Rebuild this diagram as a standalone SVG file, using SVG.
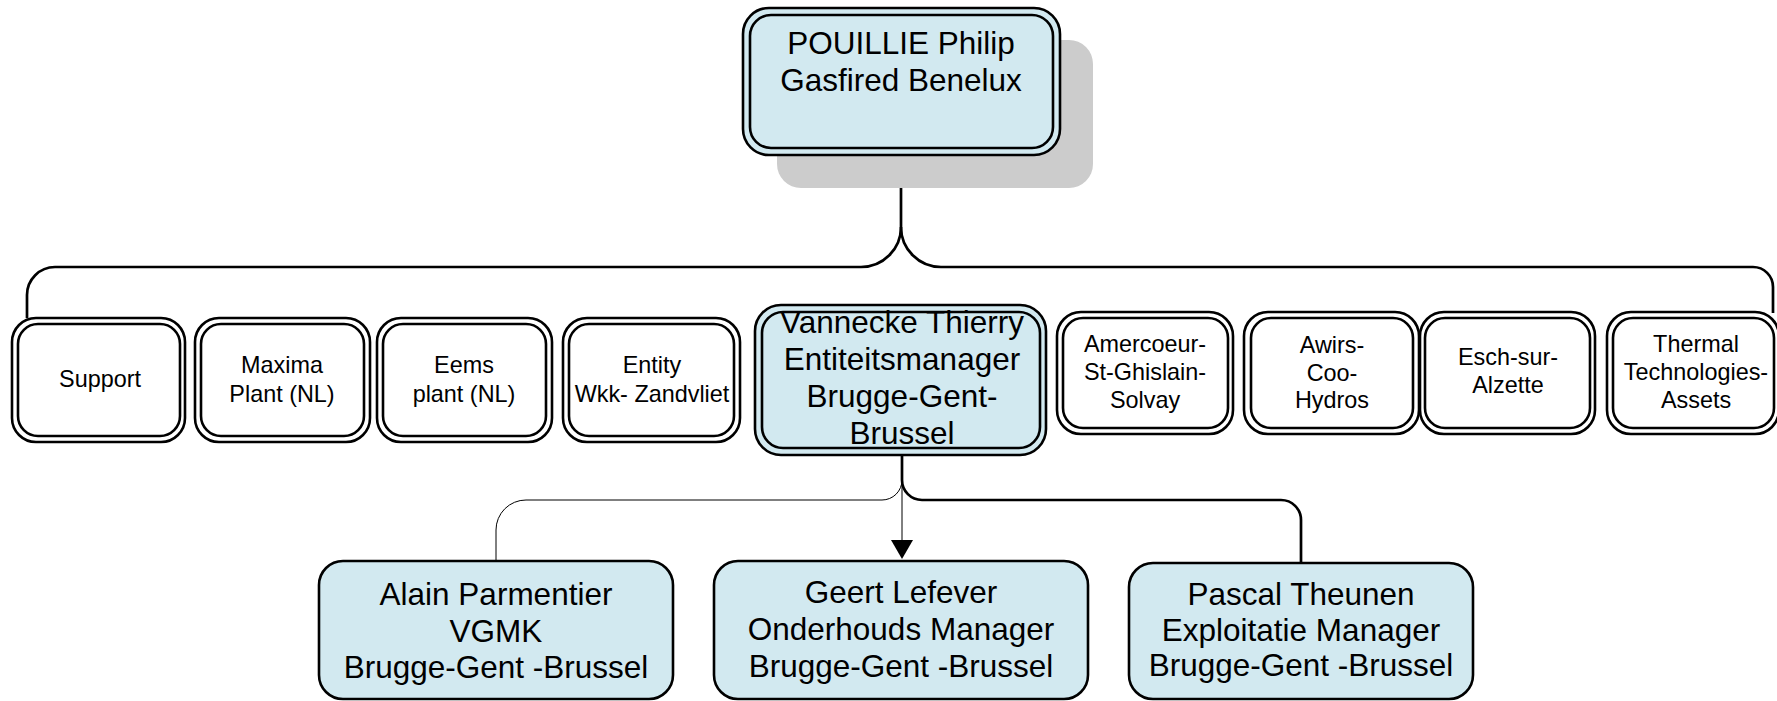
<svg xmlns="http://www.w3.org/2000/svg" width="1777" height="701" viewBox="0 0 1777 701">
<style>
.o{fill:#ffffff;stroke:#000;stroke-width:2.6}
.ob{fill:#d2e9f0;stroke:#000;stroke-width:2.6}
.i{fill:none;stroke:#000;stroke-width:2.6}
.t{font-family:"Liberation Sans",Arial,sans-serif;fill:#000;text-anchor:middle}
.s{font-size:23.4px}
.l{font-size:31.5px}
.k{fill:none;stroke:#000;stroke-width:2.7}
.n{fill:none;stroke:#000;stroke-width:1}
</style>
<rect width="1777" height="701" fill="#fff"/>
<g id="connectors">
<path class="k" d="M901,155 V227 A40,40 0 0 1 861,267 H55 A28,28 0 0 0 27,295 V318"/>
<path class="k" d="M901,227 A40,40 0 0 0 941,267 H1753 A20,20 0 0 1 1773,287 V313"/>
<path class="k" d="M902,455 V480 A20,20 0 0 0 922,500 H1281 A20,20 0 0 1 1301,520 V563"/>
<path class="n" d="M902,480 A20,20 0 0 1 882,500 H526 A30,30 0 0 0 496,530 V561"/>
<path class="n" d="M902,480 V541"/>
<polygon points="891,540 913,540 902,559" fill="#000"/>
</g>
<g id="n-pouillie">
<rect x="777" y="40" width="316" height="148" rx="24" fill="#cccccc"/>
<rect class="ob" x="743" y="8" width="317" height="147" rx="26"/>
<rect class="i" x="750" y="15" width="303" height="133" rx="21"/>
<text class="t l" x="901" y="54">POUILLIE Philip</text>
<text class="t l" x="901" y="91">Gasfired Benelux</text>
</g>
<g id="n-support">
<rect class="o" x="12" y="318" width="173" height="124" rx="24"/>
<rect class="i" x="18" y="324" width="162" height="112" rx="20"/>
<text class="t s" x="100" y="387">Support</text>
</g>
<g id="n-maxima">
<rect class="o" x="195" y="318" width="175" height="124" rx="24"/>
<rect class="i" x="201" y="324" width="163" height="112" rx="20"/>
<text class="t s" x="282" y="373">Maxima</text>
<text class="t s" x="282" y="402">Plant (NL)</text>
</g>
<g id="n-eems">
<rect class="o" x="377" y="318" width="175" height="124" rx="24"/>
<rect class="i" x="383" y="324" width="163" height="112" rx="20"/>
<text class="t s" x="464" y="373">Eems</text>
<text class="t s" x="464" y="402">plant (NL)</text>
</g>
<g id="n-entity">
<rect class="o" x="563" y="318" width="177" height="124" rx="24"/>
<rect class="i" x="569" y="324" width="165" height="112" rx="20"/>
<text class="t s" x="652" y="373">Entity</text>
<text class="t s" x="652" y="402">Wkk- Zandvliet</text>
</g>
<g id="n-vannecke">
<rect class="ob" x="755" y="305" width="291" height="150" rx="26"/>
<rect class="i" x="762" y="312" width="278" height="136" rx="21"/>
<text class="t l" x="902" y="333">Vannecke Thierry</text>
<text class="t l" x="902" y="370">Entiteitsmanager</text>
<text class="t l" x="902" y="407">Brugge-Gent-</text>
<text class="t l" x="902" y="444">Brussel</text>
</g>
<g id="n-amercoeur">
<rect class="o" x="1057" y="312" width="176" height="122" rx="24"/>
<rect class="i" x="1063" y="318" width="165" height="110" rx="20"/>
<text class="t s" x="1145" y="352">Amercoeur-</text>
<text class="t s" x="1145" y="380">St-Ghislain-</text>
<text class="t s" x="1145" y="408">Solvay</text>
</g>
<g id="n-awirs">
<rect class="o" x="1244" y="312" width="175" height="122" rx="24"/>
<rect class="i" x="1251" y="318" width="162" height="110" rx="20"/>
<text class="t s" x="1332" y="353">Awirs-</text>
<text class="t s" x="1332" y="381">Coo-</text>
<text class="t s" x="1332" y="408">Hydros</text>
</g>
<g id="n-esch">
<rect class="o" x="1420" y="312" width="175" height="122" rx="24"/>
<rect class="i" x="1425" y="318" width="165" height="110" rx="20"/>
<text class="t s" x="1508" y="365">Esch-sur-</text>
<text class="t s" x="1508" y="393">Alzette</text>
</g>
<g id="n-thermal">
<rect class="o" x="1607" y="312" width="172" height="122" rx="24"/>
<rect class="i" x="1613" y="318" width="161" height="110" rx="20"/>
<text class="t s" x="1696" y="352">Thermal</text>
<text class="t s" x="1696" y="380">Technologies-</text>
<text class="t s" x="1696" y="408">Assets</text>
</g>
<g id="n-alain">
<rect class="ob" x="319" y="561" width="354" height="138" rx="24"/>
<text class="t l" x="496" y="605">Alain Parmentier</text>
<text class="t l" x="496" y="642">VGMK</text>
<text class="t l" x="496" y="678">Brugge-Gent -Brussel</text>
</g>
<g id="n-geert">
<rect class="ob" x="714" y="561" width="374" height="138" rx="24"/>
<text class="t l" x="901" y="603">Geert Lefever</text>
<text class="t l" x="901" y="640">Onderhouds Manager</text>
<text class="t l" x="901" y="677">Brugge-Gent -Brussel</text>
</g>
<g id="n-pascal">
<rect class="ob" x="1129" y="563" width="344" height="136" rx="24"/>
<text class="t l" x="1301" y="605">Pascal Theunen</text>
<text class="t l" x="1301" y="641">Exploitatie Manager</text>
<text class="t l" x="1301" y="676">Brugge-Gent -Brussel</text>
</g>
</svg>
